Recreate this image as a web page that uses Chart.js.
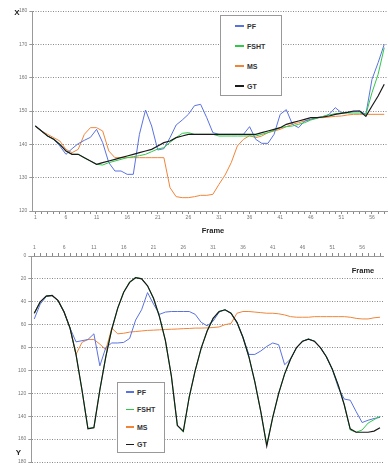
<!DOCTYPE html>
<html><head><meta charset="utf-8">
<script src="https://cdn.jsdelivr.net/npm/chart.js@4"></script>
<style>
html,body{margin:0;padding:0;background:#fff;}
#wrap{position:relative;width:388px;height:467px;overflow:hidden;font-family:"Liberation Sans",Arial,sans-serif;}
canvas{position:absolute;left:0;}
#c1{top:0;} #c2{top:236px;}
.lbl{position:absolute;font-weight:bold;color:#222;white-space:nowrap;line-height:1;transform:translate(-50%,-50%);}
.leg{position:absolute;border:1px solid #999;background:#fff;box-sizing:border-box;}
.item{position:absolute;font-weight:bold;font-size:7px;color:#333;line-height:7px;white-space:nowrap;}
.sw{position:absolute;height:1.4px;}
</style></head>
<body>
<div id="wrap">
<canvas id="c1" width="388" height="236"></canvas>
<canvas id="c2" width="388" height="231"></canvas>
</div>
<script>
// ---------- data ----------
const framesX = [1,2,3,4,5,6,7,8,9,10,11,12,13,14,15,16,17,18,19,20,21,22,23,24,25,26,27,28,29,30,31,32,33,34,35,36,37,38,39,40,41,42,43,44,45,46,47,48,49,50,51,52,53,54,55,56,57,58];
const framesY = [1,2,3,4,5,6,7,8,9,10,11,12,13,14,15,16,17,18,19,20,21,22,23,24,25,26,27,28,29,30,31,32,33,34,35,36,37,38,39,40,41,42,43,44,45,46,47,48,49,50,51,52,53,54,55,56,57,58,59];

const pfX   = [145.5,144,142.5,141.5,139.5,137,138.7,140.2,141.2,142.1, 144.5,140.5,134.5,132,132,131,131,143,150.3,145.5, 138.3,138.7,142,145.8,147.3,149,151.6,152,148,143.5, 143,143,143,143,143,145.3,141.5,140.3,140.3,143, 149,150.4,146,145,147,147.5,148,148.3,149,151, 149.5,149.6,149.8,150,149,159.5,164.5,170];
const fshtX = [145.5,144,142.5,141.5,140,138,137,137,136,135, 134,133.8,134.5,135,135.5,136,136.3,136.6,137,137.8, 138.6,139,140.6,142,143.3,143.5,143,143,143,143, 142.5,142.5,142.5,142.5,142.5,142.5,142.5,143,143.5,144.2, 145,145.3,145.5,146,146.5,147.3,147.8,148.4,148.8,149.2, 149.4,149.4,149.4,149.4,149,155.5,161,169];
const msX   = [145.5,144,143,142,141,138.5,137.5,138.5,143,145, 145,144,138,136,136,136,136,136,136,136, 136,136,127,124.3,124,124,124.3,124.7,124.7,125, 128,130.8,134.5,139.5,141.5,142.6,142,142.5,143.5,144, 144.5,145.3,146,146.5,147,147.5,148,148,148.2,148.4, 148.5,148.8,149,149,149,149,149,149];
const gtX   = [145.5,144,142.5,141.5,140,138,137,137,136,135, 134,134.5,135,135.5,136,136.5,137,137.5,138,138.5, 139.5,140.5,141,142,142.5,143,143,143,143,143, 143,143,143,143,143,143,143,143.5,144,144.5, 145,146,146.5,147,147.5,148,148,148.2,148.5,149, 149.3,149.6,150,150,148.4,151.5,154.5,158];

const pfY   = [55,42,35.5,34.5,39,49,63,75,74,73, 68,96,80,76,76,75.5,72,56,47,32, 42,51,49,48.5,48.5,48.5,48.5,51,58,61, 57,49,47,50,58,71,86,86,83,79, 76,77.5,95,90,80,74.5,72.6,74.5,80,88, 99,115,125,126,136,145.5,143.5,142,141];
const fshtY = [50,40,35,34.5,39,49,63,86,117,150.5, 150,117,88,64,45.5,31.5,22.5,18.7,19.7,26, 37,53,74,105,148,154,123,100,80.5,65.5, 54.5,48.5,47,50,58,71,88,110,136,165, 141,120,103,90,80,74.5,72.5,74.5,80,88, 99,113,130,152,154,152,146,143,140];
const msY   = [50,40,35,34.5,39,49,63,86,75.5,73, 73,77,82,63,68,67.5,66.5,66,65.5,65, 64.8,64.5,64.2,64,63.8,63.5,63.3,63,63,62.8, 62.5,62,60,59,50,48.5,48.5,49,49.5,50, 50,50.5,51.5,53,53.5,53.5,53.5,53,53,53, 53,53,53,53.5,54.5,55,55,54,53.5];
const gtY   = [50,40,35,34.5,39,49,63,86,117,151, 150,117,88,64,45.5,31.7,23,19,20,26, 37,53,74,105,148,153,123,100,80.5,65.5, 54.5,48.5,47,50,58,71,88,110,136,166, 141,120,103,90,80,74.5,72.6,74.5,80,88, 99,113,130,151,154,154,154,153,150];

const seriesNames  = ['PF','FSHT','MS','GT'];
const seriesColors = ['#5a72e0','#2fc84a','#f0853a','#1a1a1a'];
const yTicksX = [120,130,140,150,160,170,180];
const yTicksY = [0,20,40,60,80,100,120,140,160,180];

// ---------- charts ----------
const TICK = '#777', GRID = '#888';
function datasets(pf, fs, ms, gt){
  const d = [pf, fs, ms, gt];
  const ord = [2,1,3,0];
  return seriesNames.map((n,i)=>({label:n, data:d[i], borderColor:seriesColors[i],
    borderWidth: n==='GT'?1.2:1, order:ord[i], pointRadius:0, tension:0, fill:false}));
}

new Chart(document.getElementById('c1'), {
  type:'line',
  data:{labels:framesX, datasets:datasets(pfX, fshtX, msX, gtX)},
  options:{
    responsive:false, animation:false,
    layout:{padding:{top:11,left:0,right:0.7,bottom:0}},
    plugins:{legend:{display:false}, tooltip:{enabled:false}},
    scales:{
      x:{type:'category', offset:true,
         grid:{drawOnChartArea:false, tickLength:3, color:GRID},
         border:{color:'#999'},
         ticks:{autoSkip:false, maxRotation:0, padding:1, font:{size:5}, color:TICK,
                callback:(v,i)=> i%5===0 ? String(framesX[i]) : ''},
         afterFit:s=>{s.height=25;}},
      y:{min:yTicksX[0], max:yTicksX[yTicksX.length-1],
         afterBuildTicks:s=>{s.ticks=yTicksX.map(v=>({value:v}));},
         ticks:{padding:2, font:{size:5}, color:TICK},
         grid:{color:GRID, tickLength:3, tickColor:'#999'},
         border:{color:'#999', dash:[1,1.5]},
         afterFit:s=>{s.width=32.3;}}
    }
  }
});

new Chart(document.getElementById('c2'), {
  type:'line',
  data:{labels:framesY, datasets:datasets(pfY, fshtY, msY, gtY)},
  options:{
    responsive:false, animation:false,
    layout:{padding:{top:0,left:0,right:5,bottom:4}},
    plugins:{legend:{display:false}, tooltip:{enabled:false}},
    scales:{
      x:{type:'category', position:'top', offset:true,
         grid:{drawOnChartArea:false, tickLength:3, color:GRID},
         border:{color:'#999'},
         ticks:{autoSkip:false, maxRotation:0, padding:2, font:{size:5}, color:TICK,
                callback:(v,i)=> i%5===0 ? String(framesY[i]) : ''},
         afterFit:s=>{s.height=20;}},
      y:{reverse:true, min:yTicksY[0], max:yTicksY[yTicksY.length-1],
         afterBuildTicks:s=>{s.ticks=yTicksY.map(v=>({value:v}));},
         ticks:{padding:2, font:{size:5}, color:TICK},
         grid:{color:GRID, tickLength:3, tickColor:'#999'},
         border:{color:'#999', dash:[1,1.5]},
         afterFit:s=>{s.width=31.3;}}
    }
  }
});

// ---------- titles & legends (HTML text) ----------
const wrap = document.getElementById('wrap');
function label(txt, cx, cy, size){
  const d=document.createElement('div'); d.className='lbl'; d.textContent=txt;
  d.style.left=cx+'px'; d.style.top=cy+'px'; d.style.fontSize=size+'px'; wrap.appendChild(d);
}
label('X', 17, 12.5, 8);
label('Frame', 213, 231, 7.5);
label('Frame', 363, 271, 7.5);
label('Y', 18.5, 453, 8);

function legend(box, ys, swX, swW, txtX){
  const b=document.createElement('div'); b.className='leg';
  b.style.left=box[0]+'px'; b.style.top=box[1]+'px'; b.style.width=box[2]+'px'; b.style.height=box[3]+'px';
  wrap.appendChild(b);
  seriesNames.forEach((n,i)=>{
    const s=document.createElement('div'); s.className='sw';
    s.style.left=swX+'px'; s.style.top=(ys[i]-0.7)+'px'; s.style.width=swW+'px'; s.style.background=seriesColors[i];
    wrap.appendChild(s);
    const t=document.createElement('div'); t.className='item'; t.textContent=n;
    t.style.left=txtX+'px'; t.style.top=(ys[i]-3.5)+'px'; wrap.appendChild(t);
  });
}
legend([220,15,62,81],[26,46,66,86],235,9,247);
legend([117,382,48,71],[392,409.5,427,444.5],126,8,137);
</script>
</body></html>
